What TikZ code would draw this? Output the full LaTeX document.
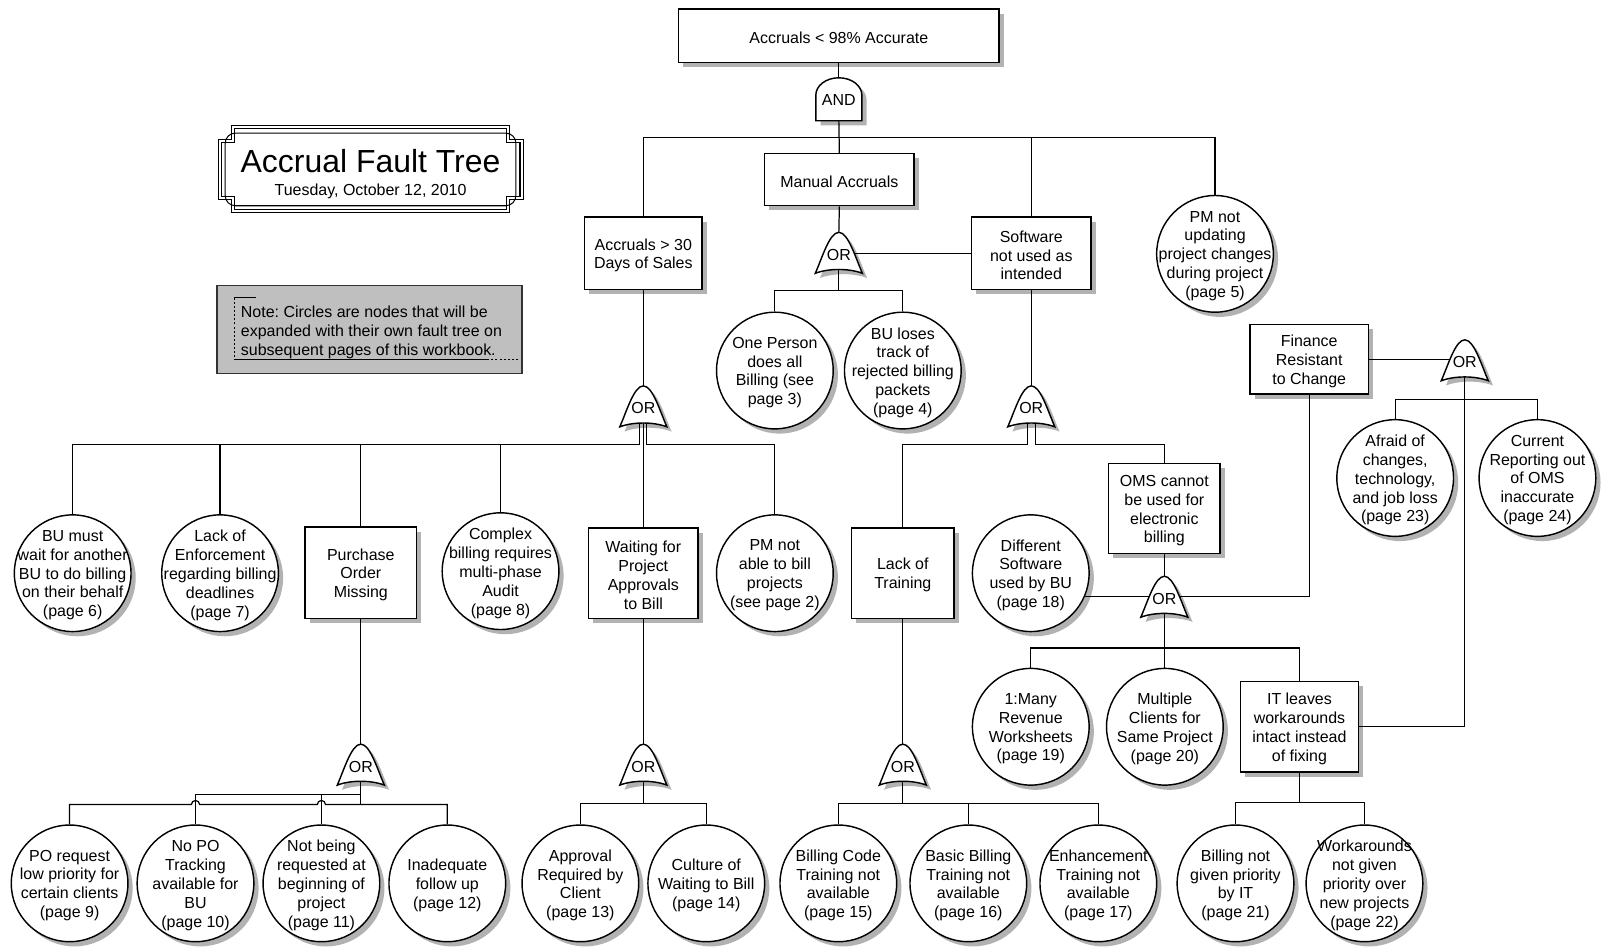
\documentclass[tikz,border=0pt]{standalone}
\usepackage{fontspec}
\setmainfont{Liberation Sans}
\usetikzlibrary{shadows,calc}
\definecolor{shade}{gray}{0.70}
\definecolor{notegray}{gray}{0.75}
\frenchspacing

\tikzset{
  every node/.style={font=\fontsize{7.8}{9.2}\selectfont},
  shad/.style={drop shadow={shadow xshift=2.3pt,shadow yshift=-2.3pt,fill=shade,opacity=1}},
  evbox/.style={rectangle,draw,line width=0.7pt,fill=white,inner sep=0pt,shad},
  evcirc/.style={circle,draw,line width=0.7pt,fill=white,minimum size=57pt,inner sep=0pt,shad},
  ctext/.style={align=center,inner sep=0pt,yshift=-1pt},
  wire/.style={line width=0.6pt},
  gateshape/.style={draw,line width=0.7pt,fill=white,
    preaction={fill=shade,transform canvas={shift={(2.3pt,-2.3pt)}}}},
  frameline/.style={line width=0.5pt},
  orgate/.pic={
    \path[gateshape] (-23,20) .. controls (-16,4) and (-9,-20) .. (0,-20)
       .. controls (9,-20) and (16,4) .. (23,20)
       .. controls (10,15) and (-10,15) .. (-23,20) -- cycle;
    \node[inner sep=0pt] (-t) at (0,2) {OR};
    \coordinate (-top) at (0,-20);
    \coordinate (-b) at (0,16.25);
    \coordinate (-bl) at (-4,16.4);
    \coordinate (-br) at (4,16.4);
    \coordinate (-br3) at (3,16.3);
    \coordinate (-e) at (15,-0.5);
    \coordinate (-w) at (-15,-0.5);
  },
  andgate/.pic={
    \path[gateshape] (-22.5,21) -- (-22.5,-4)
       arc[start angle=180,end angle=360,x radius=22.5,y radius=17]
       -- (22.5,21) -- cycle;
    \node[inner sep=0pt] (-t) at (0,1) {AND};
    \coordinate (-top) at (0,-21);
    \coordinate (-b) at (0,21);
  },
}

\begin{document}
\begin{tikzpicture}[x=0.5pt,y=-0.5pt]
\useasboundingbox (0,0) rectangle (1568,925);

% ---------- title plate ----------
\foreach \s in {0,3}{
  \draw[frameline] ({213+\s+13},{123+\s}) -- ({511-\s-13},{123+\s}) -- ({511-\s-13},{123+\s+13})
    -- ({511-\s},{123+\s+13}) -- ({511-\s},{208-\s-13}) -- ({511-\s-13},{208-\s-13})
    -- ({511-\s-13},{208-\s}) -- ({213+\s+13},{208-\s}) -- ({213+\s+13},{208-\s-13})
    -- ({213+\s},{208-\s-13}) -- ({213+\s},{123+\s+13}) -- ({213+\s+13},{123+\s+13}) -- cycle;
}
\draw[frameline,rounded corners=5pt] (220,130) rectangle (504,201);
\node (title) at (362,157) {\fontsize{15.6}{18}\selectfont Accrual Fault Tree};
\node (date) at (362,186.5) {Tuesday, October 12, 2010};

% ---------- note ----------
\node[draw=black!80,fill=notegray,line width=0.6pt,minimum width=149pt,minimum height=43pt] (notebox) at (361,322) {};
\draw[line width=0.5pt] (229,291) -- (250,291);
\draw[line width=0.5pt,dash pattern=on 1pt off 1pt] (229,291) -- (229,351);
\draw[line width=0.5pt] (229,351) -- (476,351);
\draw[line width=0.5pt,dash pattern=on 1pt off 1pt] (476,351) -- (508,351);
\node[anchor=west,align=left,inner sep=0pt] (notetxt) at (235,324.5)
  {Note: Circles are nodes that will be\\expanded with their own fault tree on\\subsequent pages of this workbook.};

% ---------- events (boxes) ----------
\node[evbox,minimum width=156.5pt,minimum height=26pt,label={[ctext]center:{Accruals < 98\% Accurate}}] (top) at (819.5,35) {};
\node[evbox,minimum width=73pt,minimum height=25.5pt,label={[ctext]center:{Manual Accruals}}] (ma) at (820,175.5) {};
\node[evbox,minimum width=57.5pt,minimum height=35.5pt,label={[ctext]center:{Accruals > 30\\Days of Sales}}] (acc) at (628.5,247.5) {};
\node[evbox,minimum width=58.5pt,minimum height=35.5pt,label={[ctext]center:{Software\\not used as\\intended}}] (sw) at (1007.5,247.5) {};
\node[evbox,minimum width=54.5pt,minimum height=44.5pt,label={[ctext]center:{Purchase\\Order\\Missing}}] (pom) at (352.5,559.5) {};
\node[evbox,minimum width=53.5pt,minimum height=44pt,label={[ctext]center:{Waiting for\\Project\\Approvals\\to Bill}}] (wfp) at (628.5,560) {};
\node[evbox,minimum width=50pt,minimum height=44pt,label={[ctext]center:{Lack of\\Training}}] (lot) at (882,560) {};
\node[evbox,minimum width=54.5pt,minimum height=44pt,label={[ctext]center:{OMS cannot\\be used for\\electronic\\billing}}] (oms) at (1137.5,497) {};
\node[evbox,minimum width=58pt,minimum height=34pt,label={[ctext]center:{Finance\\Resistant\\to Change}}] (fin) at (1279,351) {};
\node[evbox,minimum width=57.5pt,minimum height=44pt,label={[ctext]center:{IT leaves\\workarounds\\intact instead\\of fixing}}] (itl) at (1269.5,710) {};

% ---------- events (circles) ----------
\node[evcirc,label={[ctext]center:{PM not\\updating\\project changes\\during project\\(page 5)}}] (pmu) at (1187,248) {};
\node[evcirc,label={[ctext]center:{One Person\\does all\\Billing (see\\page 3)}}] (one) at (757,362) {};
\node[evcirc,label={[ctext]center:{BU loses\\track of\\rejected billing\\packets\\(page 4)}}] (bul) at (882,362) {};
\node[evcirc,label={[ctext]center:{BU must\\wait for another\\BU to do billing\\on their behalf\\(page 6)}}] (bum) at (71,560) {};
\node[evcirc,label={[ctext]center:{Lack of\\Enforcement\\regarding billing\\deadlines\\(page 7)}}] (loe) at (215,560) {};
\node[evcirc,label={[ctext]center:{Complex\\billing requires\\multi-phase\\Audit\\(page 8)}}] (cbr) at (489,558) {};
\node[evcirc,label={[ctext]center:{PM not\\able to bill\\projects\\(see page 2)}}] (pmb) at (757,560) {};
\node[evcirc,label={[ctext]center:{Different\\Software\\used by BU\\(page 18)}}] (dsw) at (1007,560) {};
\node[evcirc,label={[ctext]center:{Afraid of\\changes,\\technology,\\and job loss\\(page 23)}}] (afr) at (1363,467) {};
\node[evcirc,label={[ctext]center:{Current\\Reporting out\\of OMS\\inaccurate\\(page 24)}}] (cur) at (1502,467) {};
\node[evcirc,label={[ctext]center:{1:Many\\Revenue\\Worksheets\\(page 19)}}] (rev) at (1007,710) {};
\node[evcirc,label={[ctext]center:{Multiple\\Clients for\\Same Project\\(page 20)}}] (mcs) at (1138,710) {};
\node[evcirc,label={[ctext]center:{PO request\\low priority for\\certain clients\\(page 9)}}] (por) at (68,863) {};
\node[evcirc,label={[ctext]center:{No PO\\Tracking\\available for\\BU\\(page 10)}}] (nopo) at (191,863) {};
\node[evcirc,label={[ctext]center:{Not being\\requested at\\beginning of\\project\\(page 11)}}] (nbr) at (314,863) {};
\node[evcirc,label={[ctext]center:{Inadequate\\follow up\\(page 12)}}] (ifu) at (437,863) {};
\node[evcirc,label={[ctext]center:{Approval\\Required by\\Client\\(page 13)}}] (arq) at (567,863) {};
\node[evcirc,label={[ctext]center:{Culture of\\Waiting to Bill\\(page 14)}}] (cwb) at (690,863) {};
\node[evcirc,label={[ctext]center:{Billing Code\\Training not\\available\\(page 15)}}] (bct) at (819,863) {};
\node[evcirc,label={[ctext]center:{Basic Billing\\Training not\\available\\(page 16)}}] (bbt) at (946,863) {};
\node[evcirc,label={[ctext]center:{Enhancement\\Training not\\available\\(page 17)}}] (ent) at (1073,863) {};
\node[evcirc,label={[ctext]center:{Billing not\\given priority\\by IT\\(page 21)}}] (bng) at (1207,863) {};
\node[evcirc,label={[ctext]center:{Workarounds\\not given\\priority over\\new projects\\(page 22)}}] (wng) at (1333,863) {};

% ---------- gates ----------
\pic (gand) at (819.5,97) {andgate};
\pic (gma) at (819.5,247) {orgate};
\pic (gacc) at (628.5,397) {orgate};
\pic (gsw) at (1007.5,397) {orgate};
\pic (gfin) at (1431,352) {orgate};
\pic (goms) at (1137.5,583) {orgate};
\pic (gpo) at (352.5,747) {orgate};
\pic (gwt) at (628.5,747) {orgate};
\pic (gtr) at (882,747) {orgate};

% ---------- bus levels ----------
\coordinate (topbus) at (0,134);
\coordinate (mabus) at (0,284);
\coordinate (accbus) at (0,434);
\coordinate (finbus) at (0,390);
\coordinate (omsbus) at (0,633);
\coordinate (itbus) at (0,784);
\coordinate (poup) at (0,776);
\coordinate (polow) at (0,786);
\coordinate (lowbus) at (0,785);

% ---------- connectors ----------
\draw[wire] (top.south) -- (gand-top);
\draw[wire] (gand-b) -- (ma.north);
\draw[wire] (acc.north) -- (acc.north |- topbus) -- (pmu.north |- topbus) -- (pmu.north);
\draw[wire] (sw.north) -- (sw.north |- topbus);

\draw[wire] (ma.south) -- (gma-top);
\draw[wire] (sw.west) -- (sw.west -| gma-e);
\draw[wire] (gma-b) -- (gma-b |- mabus);
\draw[wire] (one.north) -- (one.north |- mabus) -- (bul.north |- mabus) -- (bul.north);

\draw[wire] (acc.south) -- (gacc-top);
\draw[wire] (gacc-bl) |- (bum.north |- accbus) -- (bum.north);
\draw[wire] (loe.north) -- (loe.north |- accbus);
\draw[wire] (pom.north) -- (pom.north |- accbus);
\draw[wire] (cbr.north) -- (cbr.north |- accbus);
\draw[wire] (gacc-b) -- (wfp.north);
\draw[wire] (gacc-br3) |- (pmb.north |- accbus) -- (pmb.north);

\draw[wire] (sw.south) -- (gsw-top);
\draw[wire] (gsw-bl) |- (lot.north |- accbus) -- (lot.north);
\draw[wire] (gsw-br) |- (oms.north |- accbus) -- (oms.north);

\draw[wire] (oms.south) -- (goms-top);
\draw[wire] (dsw.-23) -- (dsw.-23 -| goms-w);
\draw[wire] (goms-e) -| (fin.south);
\draw[wire] (goms-b) -- (goms-b |- omsbus);
\draw[wire] (rev.north) -- (rev.north |- omsbus) -- (itl.north |- omsbus) -- (itl.north);
\draw[wire] (mcs.north) -- (mcs.north |- omsbus);

\draw[wire] (fin.east) -- (fin.east -| gfin-w);
\draw[wire] (gfin-b) |- (itl.east);
\draw[wire] (afr.north) -- (afr.north |- finbus) -- (cur.north |- finbus) -- (cur.north);

\draw[wire] (itl.south) -- (itl.south |- itbus);
\draw[wire] (bng.north) -- (bng.north |- itbus) -- (wng.north |- itbus) -- (wng.north);

\draw[wire] (pom.south) -- (gpo-top);
\draw[wire] (gpo-b) -- (gpo-b |- polow);
\draw[wire] (gpo-b |- poup) -| (nopo.north);
\draw[wire] (nbr.north) -- (nbr.north |- poup);
\draw[wire] (por.north) -- (por.north |- polow)
  -- ($(nopo.north |- polow)+(-4,0)$) arc[start angle=180,end angle=360,radius=4]
  -- ($(nbr.north |- polow)+(-4,0)$) arc[start angle=180,end angle=360,radius=4]
  -- (ifu.north |- polow) -- (ifu.north);

\draw[wire] (wfp.south) -- (gwt-top);
\draw[wire] (gwt-b) -- (gwt-b |- lowbus);
\draw[wire] (arq.north) -- (arq.north |- lowbus) -- (cwb.north |- lowbus) -- (cwb.north);

\draw[wire] (lot.south) -- (gtr-top);
\draw[wire] (gtr-b) -- (gtr-b |- lowbus);
\draw[wire] (bct.north) -- (bct.north |- lowbus) -- (ent.north |- lowbus) -- (ent.north);
\draw[wire] (bbt.north) -- (bbt.north |- lowbus);
\end{tikzpicture}
\end{document}
